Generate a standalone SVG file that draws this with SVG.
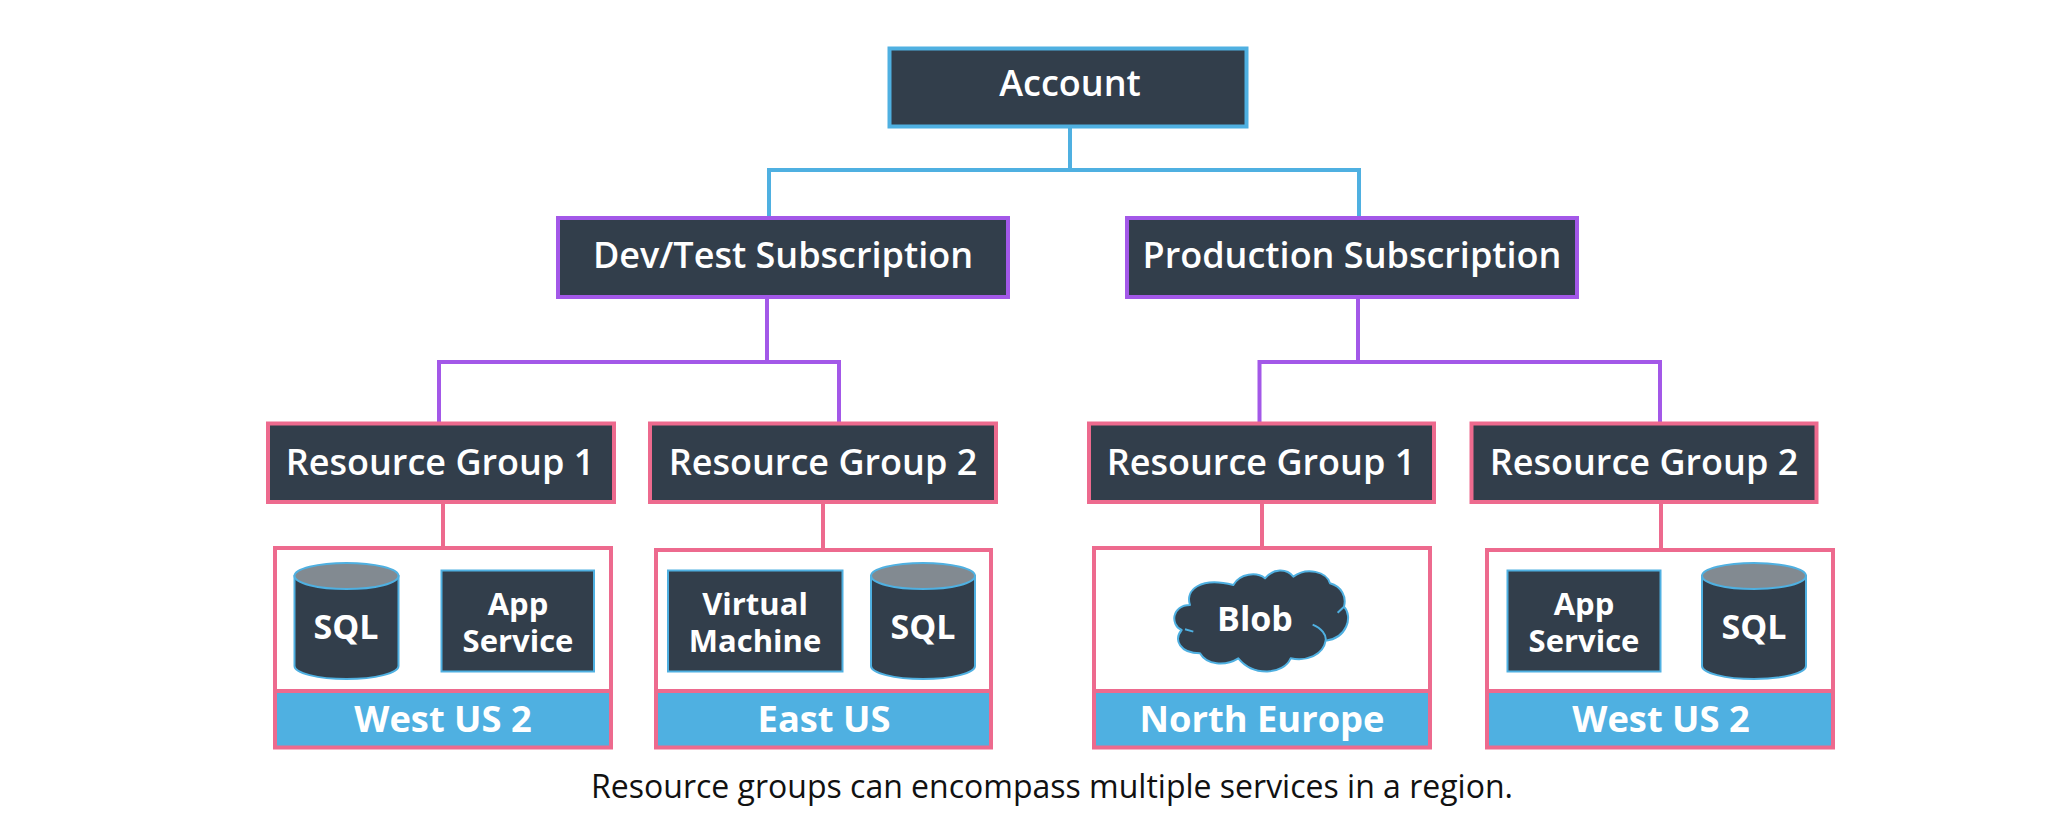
<svg xmlns="http://www.w3.org/2000/svg" width="2048" height="840" viewBox="0 0 2048 840">
<style>
text{font-family:"Open Sans","Liberation Sans",sans-serif;text-anchor:middle;fill:#fff}
.t{font-size:36px;font-weight:600}
.s{font-size:31px;font-weight:700}
.q{font-size:34px;font-weight:700}
.r{font-size:36.300px;font-weight:700}
.cap{font-size:32px;fill:#111}
.box{fill:#323e4b}
.blue{stroke:#4fb0e1}
.purple{stroke:#a358e8}
.pink{stroke:#ed6a8e}
.ac{stroke-width:4;stroke:#4fb0e1}
.pc{stroke-width:4;stroke:#a358e8}
.nc{stroke-width:4;stroke:#ed6a8e}
.line{fill:none;stroke-linejoin:miter}
.svc{fill:#323e4b;stroke:#4fb0e1;stroke-width:2}
.frame{fill:#fff;stroke:#ed6a8e;stroke-width:4}
.band{fill:#4fb0e1;stroke:#ed6a8e;stroke-width:4}
</style>
<defs>
<g id="cyl">
<path class="svc" d="M0 13V103C0 110 23 116 52 116S104 110 104 103V13Z"/>
<ellipse cx="52" cy="13" rx="52" ry="13" fill="#828a91" stroke="#4fb0e1" stroke-width="2"/>
</g>
</defs>
<rect width="2048" height="840" fill="#fff"/>
<g id="connectors">
<path class="line ac" d="M1070 128V170M769 216V170H1359V216"/>
<path class="line pc" d="M767 298V362M439 422V362H839V422"/>
<path class="line pc" d="M1358 298V362M1259.500 422V362H1660V422"/>
<path class="line nc" d="M443 503V546M823 503V548M1262 503V546M1661 503V548"/>
</g>
<g id="account"><rect class="box blue" stroke-width="4" x="889.500" y="48.500" width="357" height="78"/><text class="t" x="1070" y="96">Account</text></g>
<g id="dev-test"><rect class="box purple" stroke-width="4" x="558" y="218" width="450" height="79"/><text class="t" x="783" y="268">Dev/Test Subscription</text></g>
<g id="production"><rect class="box purple" stroke-width="4" x="1127" y="218" width="450" height="79"/><text class="t" x="1352" y="268">Production Subscription</text></g>
<g id="rg1a"><rect class="box pink" stroke-width="4" x="268" y="423.500" width="346" height="78.500"/><text class="t" x="440" y="474.500">Resource Group 1</text></g>
<g id="rg2a"><rect class="box pink" stroke-width="4" x="650" y="423.500" width="346" height="78.500"/><text class="t" x="823" y="474.500">Resource Group 2</text></g>
<g id="rg1b"><rect class="box pink" stroke-width="4" x="1089" y="423.500" width="345" height="78.500"/><text class="t" x="1261" y="474.500">Resource Group 1</text></g>
<g id="rg2b"><rect class="box pink" stroke-width="4" x="1471.500" y="423.500" width="345" height="78.500"/><text class="t" x="1644" y="474.500">Resource Group 2</text></g>

<g id="region-west-us-2a">
<rect class="frame" x="275" y="548" width="336" height="143"/>
<rect class="band" x="275" y="691" width="336" height="56.500"/>
<text class="r" x="443" y="732">West US 2</text>
</g>
<g id="sql-1"><use href="#cyl" x="294.500" y="563"/><text class="q" x="346" y="639">SQL</text></g>
<g id="app-service-1"><rect class="svc" x="441.500" y="570.500" width="152.500" height="101"/><text class="s" x="518" y="615">App</text><text class="s" x="518" y="652">Service</text></g>

<g id="region-east-us">
<rect class="frame" x="656" y="550" width="335" height="141"/>
<rect class="band" x="656" y="691" width="335" height="56.500"/>
<text class="r" x="824" y="732">East US</text>
</g>
<g id="virtual-machine"><rect class="svc" x="668" y="570.500" width="174.500" height="101"/><text class="s" x="755" y="615">Virtual</text><text class="s" x="755" y="652">Machine</text></g>
<g id="sql-2"><use href="#cyl" x="871" y="563"/><text class="q" x="923" y="639">SQL</text></g>

<g id="region-north-europe">
<rect class="frame" x="1094" y="548" width="336" height="143"/>
<rect class="band" x="1094" y="691" width="336" height="56.500"/>
<text class="r" x="1262" y="732">North Europe</text>
</g>
<g id="blob">
<g transform="translate(1150 550) scale(.3333)">
<path d="M120 165C105 120 150 80 250 105C270 70 320 65 345 85C370 55 410 55 430 80C470 50 530 65 540 100C575 110 590 140 582 170C610 200 590 265 527 272C520 315 470 335 422 325C400 375 310 380 265 325C225 350 170 345 150 310C90 310 70 270 95 240C60 225 65 165 120 165Z" fill="#323e4b" stroke="#4fb0e1" stroke-width="6" stroke-linejoin="round"/>
<path d="M105 238L130 245M582 170L563 188M488 224C515 235 530 255 527 272" fill="none" stroke="#4fb0e1" stroke-width="6"/>
</g>
<text class="q" x="1255" y="631">Blob</text>
</g>

<g id="region-west-us-2b">
<rect class="frame" x="1487" y="550" width="346" height="141"/>
<rect class="band" x="1487" y="691" width="346" height="56.500"/>
<text class="r" x="1661" y="732">West US 2</text>
</g>
<g id="app-service-2"><rect class="svc" x="1507.500" y="570.500" width="153" height="101"/><text class="s" x="1584" y="615">App</text><text class="s" x="1584" y="652">Service</text></g>
<g id="sql-3"><use href="#cyl" x="1702" y="563"/><text class="q" x="1754" y="639">SQL</text></g>

<text class="cap" x="1052" y="798">Resource groups can encompass multiple services in a region.</text>
</svg>
